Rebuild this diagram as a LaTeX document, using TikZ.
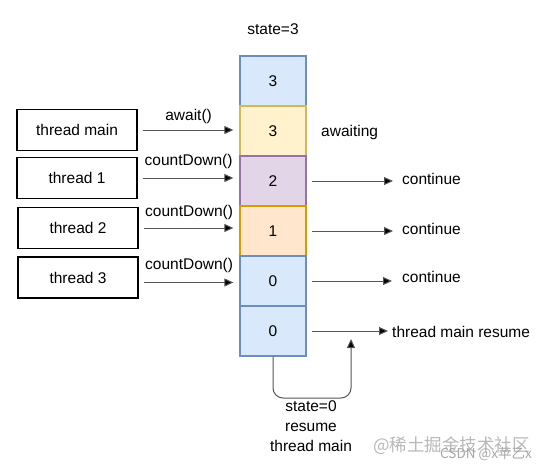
\documentclass[tikz,border=0pt]{standalone}
\usepackage{fontspec}
\setmainfont{Liberation Sans}
\newfontfamily\cjk{Noto Sans CJK SC}
\usetikzlibrary{arrows.meta}
\definecolor{bluefill}{HTML}{DAE8FC}\definecolor{bluedraw}{HTML}{6C8EBF}
\definecolor{yelfill}{HTML}{FFF2CC}\definecolor{yeldraw}{HTML}{D6B656}
\definecolor{purfill}{HTML}{E1D5E7}\definecolor{purdraw}{HTML}{9673A6}
\definecolor{orafill}{HTML}{FFE6CC}\definecolor{oradraw}{HTML}{D79B00}
\definecolor{linegray}{HTML}{555555}
\begin{document}
\begin{tikzpicture}[x=1pt,y=-1pt,
  every node/.style={font=\fontsize{15.5}{18}\selectfont, inner sep=0pt},
  thread/.style={draw=black, line width=1.8pt, minimum width=120pt, minimum height=41pt},
  cell/.style={line width=1.3pt, minimum width=66pt, minimum height=50pt},
  conn/.style={draw=linegray, line width=1pt, -{Triangle[length=9pt,width=8pt,fill=black]}}]
\useasboundingbox (0,0) rectangle (549,472);
\node (st) at (273,29) {state=3};
% column
\node[cell, fill=bluefill, draw=bluedraw] (c1) at (273,81) {3};
\node[cell, fill=yelfill, draw=yeldraw] (c2) at (273,131) {3};
\node[cell, fill=purfill, draw=purdraw] (c3) at (273,181) {2};
\node[cell, fill=orafill, draw=oradraw] (c4) at (273,231) {1};
\node[cell, fill=bluefill, draw=bluedraw] (c5) at (273,281) {0};
\node[cell, fill=bluefill, draw=bluedraw] (c6) at (273,331) {0};
% threads
\node[thread] (tm) at (77,130) {thread main};
\node[thread] (t1) at (77,178) {thread 1};
\node[thread] (t2) at (78,228) {thread 2};
\node[thread] (t3) at (78,277.5) {thread 3};
% incoming arrows
\draw[conn, shorten <=5pt, shorten >=6pt] (tm.east) -- (tm.east -| c2.west) node[midway, above=6pt] {await()};
\draw[conn, shorten <=5pt, shorten >=6pt] (t1.east) -- (t1.east -| c3.west) node[midway, above=9pt] {countDown()};
\draw[conn, shorten <=5pt, shorten >=6pt] (t2.east) -- (t2.east -| c4.west) node[midway, above=8pt] {countDown()};
\draw[conn, shorten <=5pt, shorten >=6pt] ([yshift=-5pt]t3.east) -- ([yshift=-5pt]t3.east -| c5.west) node[midway, above=9pt] {countDown()};
% right side
\node[anchor=west] (aw) at (321,132) {awaiting};
\node[anchor=west] (k1) at (402,179) {continue};
\node[anchor=west] (k2) at (402,229) {continue};
\node[anchor=west] (k3) at (402,277) {continue};
\node[anchor=west] (res) at (392,332) {thread main resume};
\draw[conn, shorten <=5pt] (c3.east) -- (393,181);
\draw[conn, shorten <=5pt] (c4.east) -- (393,231);
\draw[conn, shorten <=5pt] (c5.east) -- (392,281);
\draw[conn, shorten <=5pt] (c6.east) -- (388,331);
% loop
\coordinate (lp) at (351,339);
\draw[conn, rounded corners=10pt] (c6.south) -- (273,398) -- (351,398) -- (lp);
\node[align=center, anchor=north, font=\fontsize{15.5}{20}\selectfont] (txt) at (311,400) {state=0\\resume\\thread main};
% watermark
\node[anchor=west, text=black!28, font=\cjk\fontsize{17.5}{20}\selectfont] (wm1) at (373,446) {@稀土掘金技术社区};
\node[anchor=west, text=black!35, font=\cjk\fontsize{13.5}{15}\selectfont] (wm2) at (440,454) {CSDN @x苹乙x};
\end{tikzpicture}
\end{document}
